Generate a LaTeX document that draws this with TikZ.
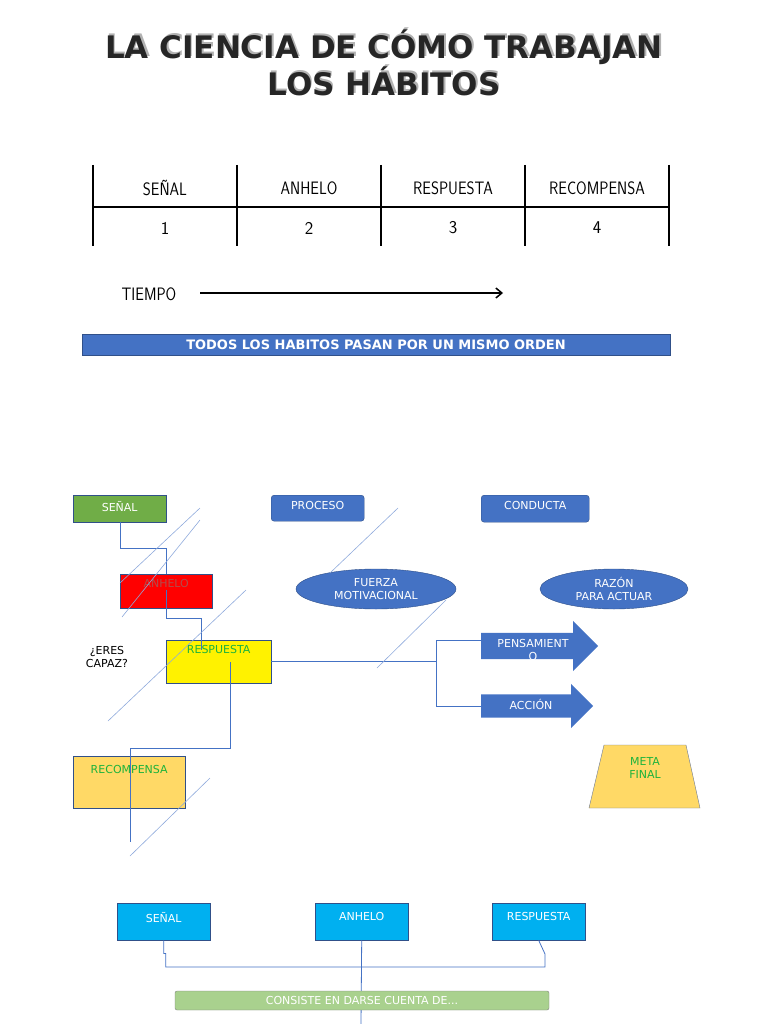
\documentclass[tikz,border=0pt]{standalone}
\usepackage{fontspec}
\setmainfont{DejaVu Sans}
\usetikzlibrary{
	calc,
	arrows.meta,
	shapes,
	shapes.misc,
	shapes.geometric,
	shapes.arrows,
	positioning
	}
\definecolor{azul}{HTML}{4472C4}
\definecolor{verde}{HTML}{70AD47}
\definecolor{amarillo}{HTML}{FFD966}
\definecolor{cian}{HTML}{00B0F0}
\definecolor{verdeclaro}{HTML}{A9D18E}
\definecolor{textoverde}{HTML}{1DB33C}
\tikzstyle{caja}=[draw=azul!70!black,minimum height=0pt,inner sep=0pt,anchor=north west]
\tikzstyle{etiq}=[font={\fontsize{11pt}{12.5}\selectfont},align=center]
\tikzstyle{enlace}=[draw=azul,line width=0.8pt]
\tikzstyle{diag}=[draw=azul!60,line width=0.6pt]
\tikzstyle{chaflan}=[chamfered rectangle,chamfered rectangle corners={south west,south east},chamfered rectangle xsep=5pt,chamfered rectangle ysep=5pt,draw=azul!70!black,inner sep=0pt]
\tikzstyle{tabla}=[font={\fontsize{18pt}{20}\selectfont\sffamily}]
\newcommand{\titulo}[2]{\node[font={\fontsize{31pt}{34}\selectfont\bfseries},text=gray!60] at ($(#1)+(1.5,-1.5)$) {#2};
	\node[font={\fontsize{31pt}{34}\selectfont\bfseries},text=black!85] (#1) at (#1) {#2};}

\begin{document}
\begin{tikzpicture}[x=1pt,y=-1pt]
	\useasboundingbox (0,0) rectangle (768,1024);
	% titulo
	\coordinate (t1) at (384,47);
	\coordinate (t2) at (384,81);
	\titulo{t1}{LA CIENCIA DE CÓMO TRABAJAN}
	\titulo{t2}{LOS HÁBITOS}
	%
	\foreach \x [count=\i] in {93,237,381,525,669}
		{\draw[line width=2.5pt] (\x,165) -- (\x,246);
		\coordinate (v\i) at (\x,207);}
	\draw[line width=2.5pt] (v1) -- (v5);
	\foreach \t [count=\i] in {SEÑAL,ANHELO,RESPUESTA,RECOMPENSA}
		{\node[tabla,xscale=0.85] (c\i) at (21+144*\i,188) {\t};
		\node[tabla] (n\i) at (21+144*\i,228) {\i};}
	\node[tabla,xscale=0.85] (tiempo) at (149,294) {TIEMPO};
	\coordinate (flecha) at (503,293);
	\draw[-{Straight Barb[length=6pt,width=10pt]},line width=1.5pt] (200,293) -- (flecha);
	\node[fill=azul,draw=azul!70!black,minimum width=588,minimum height=21,inner sep=0pt,text=white,font={\fontsize{13pt}{14}\selectfont\bfseries}] (orden) at (376,344.5) {TODOS LOS HABITOS PASAN POR UN MISMO ORDEN};
	%
	\node[caja,fill=verde,minimum width=93,minimum height=27] (senal) at (73,495) {};
	\node[etiq,text=white,below=3pt] at (senal.north) {SEÑAL};
	\node[caja,fill=azul,rounded corners=3pt,minimum width=93,minimum height=26] (proceso) at (271,495) {};
	\node[etiq,text=white,below=3pt] at (proceso.north) {PROCESO};
	\node[caja,fill=azul,rounded corners=3pt,minimum width=108,minimum height=27] (conducta) at (481,495) {};
	\node[etiq,text=white,below=3pt] at (conducta.north) {CONDUCTA};
	\node[caja,fill=red,minimum width=92,minimum height=34] (anhelo) at (120,574) {};
	\node[etiq,text=red!40!gray,below=2pt] at (anhelo.north) {ANHELO};
	\node[ellipse,fill=azul,draw=azul!70!black,minimum width=160,minimum height=40,inner sep=0pt,etiq,text=white] (fuerza) at (376,589) {FUERZA\\MOTIVACIONAL};
	\node[ellipse,fill=azul,draw=azul!70!black,minimum width=148,minimum height=40,inner sep=0pt,etiq,text=white] (razon) at (614,589) {RAZÓN\\PARA ACTUAR};
	\node[etiq] (capaz) at (107,657) {¿ERES\\CAPAZ?};
	\node[caja,fill=yellow,minimum width=105,minimum height=43] (respuesta) at (166,640) {};
	\node[etiq,text=textoverde,below=2pt] at (respuesta.north) {RESPUESTA};
	\node[single arrow,fill=azul,draw=none,minimum height=117,minimum width=50,inner xsep=0pt,inner ysep=13pt,single arrow head extend=12pt,anchor=west] (pensamiento) at (481,646) {};
	\node[etiq,text=white,align=center] at (533,650) {PENSAMIENT\\O};
	\node[single arrow,fill=azul,draw=none,minimum height=112,minimum width=44,inner xsep=0pt,inner ysep=11.5pt,single arrow head extend=10.5pt,anchor=west] (accion) at (481,706) {};
	\node[etiq,text=white] at (531,704) {ACCIÓN};
	\node[chaflan,fill=amarillo,minimum width=112,minimum height=52,anchor=north west] (recompensa) at (73,756) {};
	\node[etiq,text=textoverde,below=6pt] at (recompensa.north) {RECOMPENSA};
	\filldraw[fill=amarillo,draw=azul!30!gray] (604,745) -- (686,745) -- (700,808) -- (589,808) -- cycle;
	\node[etiq,text=textoverde] (meta) at (645,768) {META\\FINAL};
	% conectores
	\draw[enlace] (120,522) -- (120,548) -- (166,548) -- (166,574);
	\draw[enlace] (166,590) -- (166,618) -- (201,618) -- (201,650);
	\draw[enlace] (230,662) -- (230,748) -- (130,748) -- (130,842);
	\draw[enlace] (respuesta.east |- 0,661) -- (436,661);
	\draw[enlace] (481,640) -- (436,640) -- (436,706) -- (481,706);
	% diagonales
	\draw[diag] (120,583) -- (200,508);
	\draw[diag] (122,617) -- (200,520);
	\draw[diag] (330,573) -- (398,508);
	\draw[diag] (377,668) -- (446,600);
	\draw[diag] (108,721) -- (246,590);
	\draw[diag] (130,856) -- (210,778);
	%
	\foreach \nom/\t/\x in {bs/SEÑAL/117,ba/ANHELO/315,br/RESPUESTA/492}
		{\node[chaflan,fill=cian,minimum width=93,minimum height=37,anchor=north west] (\nom) at (\x,903) {};
		\node[etiq,text=white,below=6pt] at (\nom.north) {\t};}
	\draw[enlace] (bs.south) -- ++(0,13) -- ++(2,0) |- (545,967) -- ++(0,-13) -- (br.south);
	\coordinate (fin) at (361,1024);
	\draw[enlace] (ba.south) -- (fin);
	\node[fill=verdeclaro,draw=gray,rounded corners=2pt,minimum width=374,minimum height=19,inner sep=0pt,etiq,text=white] (consiste) at (362,1000.5) {CONSISTE EN DARSE CUENTA DE...};
\end{tikzpicture}
\end{document}
